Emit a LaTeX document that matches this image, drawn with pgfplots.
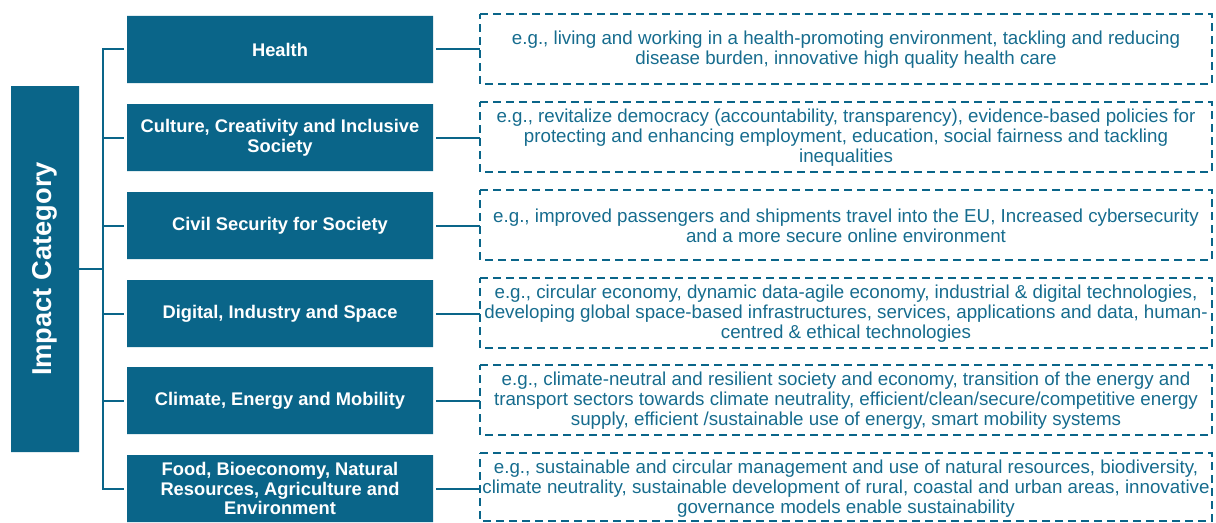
\documentclass[border=0pt]{standalone}
\usepackage{pgfplots}
\pgfplotsset{compat=1.18}
\usepackage{fontspec}
\setmainfont{Liberation Sans}
\definecolor{teal1}{RGB}{10,101,137}
\definecolor{tealtxt}{RGB}{22,108,142}
\begin{document}
\begin{tikzpicture}
\begin{axis}[
 width=1216bp, height=522bp, scale only axis,
 xmin=0,xmax=1216,ymin=0,ymax=522, y dir=reverse,
 hide axis, clip=false,
]
\path (axis cs:0,0) (axis cs:1216,522);
% left box
\addplot[fill=teal1, draw=none] coordinates {(11,86) (79,86) (79,452) (11,452) (11,86)};
% category boxes
\addplot[fill=teal1, draw=none] coordinates {(127,16) (433,16) (433,83) (127,83) (127,16)};
\addplot[fill=teal1, draw=none] coordinates {(127,104) (433,104) (433,171) (127,171) (127,104)};
\addplot[fill=teal1, draw=none] coordinates {(127,192) (433,192) (433,259) (127,259) (127,192)};
\addplot[fill=teal1, draw=none] coordinates {(127,280) (433,280) (433,347) (127,347) (127,280)};
\addplot[fill=teal1, draw=none] coordinates {(127,367) (433,367) (433,434) (127,434) (127,367)};
\addplot[fill=teal1, draw=none] coordinates {(127,455) (433,455) (433,522) (127,522) (127,455)};
% tree connectors
\addplot[teal1, line width=2bp] coordinates {(124,49.5) (103,49.5) (103,488.5) (124,488.5)};
\addplot[teal1, line width=2bp] coordinates {(103,137.5) (124,137.5)};
\addplot[teal1, line width=2bp] coordinates {(103,225.5) (124,225.5)};
\addplot[teal1, line width=2bp] coordinates {(103,313.5) (124,313.5)};
\addplot[teal1, line width=2bp] coordinates {(103,400.5) (124,400.5)};
\addplot[teal1, line width=2bp] coordinates {(79,269) (103,269)};
% right connectors
\addplot[teal1, line width=2bp] coordinates {(436,49.5) (480,49.5)};
\addplot[teal1, line width=2bp] coordinates {(436,137.5) (480,137.5)};
\addplot[teal1, line width=2bp] coordinates {(436,225.5) (480,225.5)};
\addplot[teal1, line width=2bp] coordinates {(436,313.5) (480,313.5)};
\addplot[teal1, line width=2bp] coordinates {(436,400.5) (480,400.5)};
\addplot[teal1, line width=2bp] coordinates {(436,488.5) (480,488.5)};
% dashed boxes
\addplot[teal1, line width=1.8bp, dash pattern=on 8bp off 5bp] coordinates {(480,14) (1212,14) (1212,84) (480,84) (480,14)};
\addplot[teal1, line width=1.8bp, dash pattern=on 8bp off 5bp] coordinates {(480,102) (1212,102) (1212,172) (480,172) (480,102)};
\addplot[teal1, line width=1.8bp, dash pattern=on 8bp off 5bp] coordinates {(480,190) (1212,190) (1212,260) (480,260) (480,190)};
\addplot[teal1, line width=1.8bp, dash pattern=on 8bp off 5bp] coordinates {(480,278) (1212,278) (1212,348) (480,348) (480,278)};
\addplot[teal1, line width=1.8bp, dash pattern=on 8bp off 5bp] coordinates {(480,365) (1212,365) (1212,435) (480,435) (480,365)};
\addplot[teal1, line width=1.8bp, dash pattern=on 8bp off 5bp] coordinates {(480,453) (1212,453) (1212,521) (480,521) (480,453)};
% texts
\node[rotate=90, text=white, font=\bfseries\fontsize{27.3bp}{30bp}\selectfont] at (axis cs:45,269) {Impact Category};
\tikzset{cat/.style={text=white, align=center, inner sep=0pt, font=\bfseries\fontsize{18.3bp}{19.8bp}\selectfont}}
\node[cat] at (axis cs:280,49.5) {Health};
\node[cat] at (axis cs:280,137.5) {Culture, Creativity and Inclusive\\Society};
\node[cat] at (axis cs:280,225.5) {Civil Security for Society};
\node[cat] at (axis cs:280,313.5) {Digital, Industry and Space};
\node[cat] at (axis cs:280,400.5) {Climate, Energy and Mobility};
\node[cat] at (axis cs:280,488.5) {Food, Bioeconomy, Natural\\Resources, Agriculture and\\Environment};
\tikzset{desc/.style={text=tealtxt, align=center, inner sep=0pt, font=\fontsize{18.75bp}{20bp}\selectfont}}
\node[desc] at (axis cs:846,49.5) {e.g., living and working in a health-promoting environment, tackling and reducing\\disease burden, innovative high quality health care};
\node[desc] at (axis cs:846,137.5) {e.g., revitalize democracy (accountability, transparency), evidence-based policies for\\protecting and enhancing employment, education, social fairness and tackling\\inequalities};
\node[desc] at (axis cs:846,225.5) {e.g., improved passengers and shipments travel into the EU, Increased cybersecurity\\and a more secure online environment};
\node[desc] at (axis cs:846,313.5) {e.g., circular economy, dynamic data-agile economy, industrial \& digital technologies,\\developing global space-based infrastructures, services, applications and data, human-\\centred \& ethical technologies};
\node[desc] at (axis cs:846,400.5) {e.g., climate-neutral and resilient society and economy, transition of the energy and\\transport sectors towards climate neutrality, efficient/clean/secure/competitive energy\\supply, efficient /sustainable use of energy, smart mobility systems};
\node[desc] at (axis cs:846,488.5) {e.g., sustainable and circular management and use of natural resources, biodiversity,\\climate neutrality, sustainable development of rural, coastal and urban areas, innovative\\governance models enable sustainability};
\end{axis}
\end{tikzpicture}
\end{document}
